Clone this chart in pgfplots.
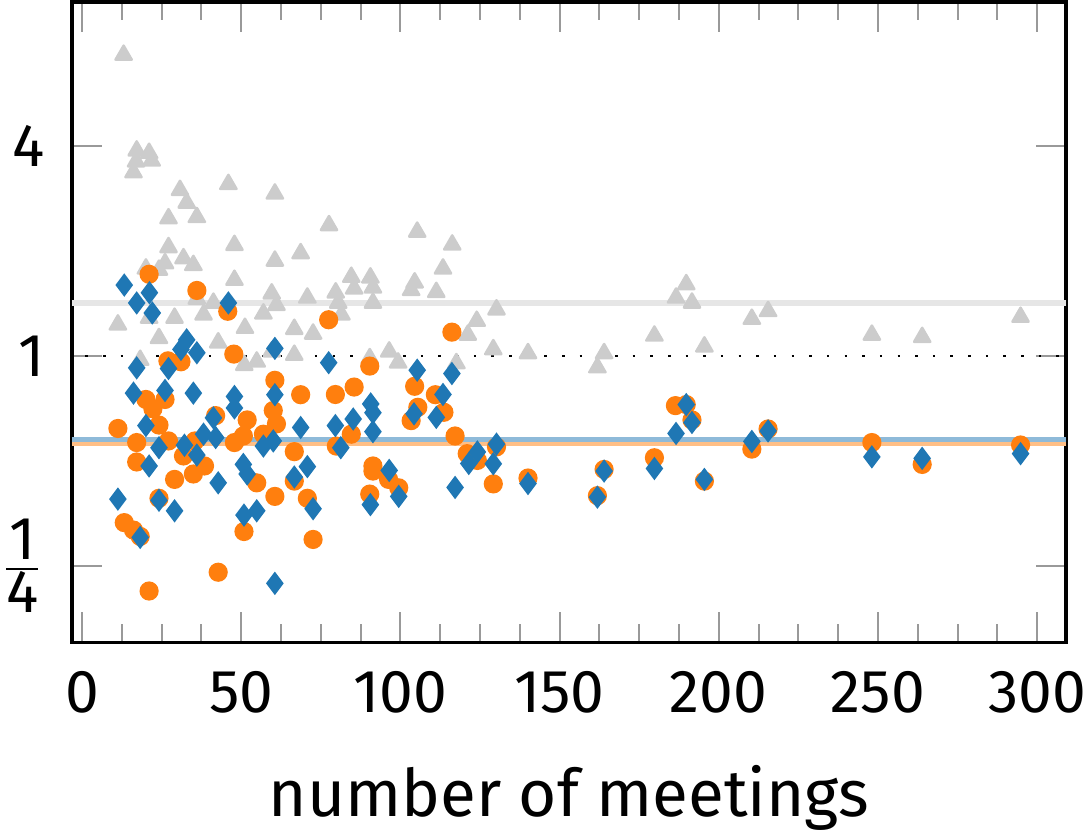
\documentclass[border=0pt]{standalone}
\usepackage{fontspec}
\setmainfont{Fira Sans}
\usepackage{pgfplots}
\pgfplotsset{compat=1.18}
\definecolor{tabblue}{HTML}{1F77B4}
\definecolor{taborange}{HTML}{FF7F0E}
\definecolor{trigray}{HTML}{CCCCCC}
\definecolor{meangray}{HTML}{E6E6E6}
\definecolor{meanblue}{HTML}{8EBAD9}
\definecolor{meanorange}{HTML}{FFBF86}

\begin{document}
\begin{tikzpicture}[font=\fontsize{12}{14}\selectfont]
\begin{axis}[
  scale only axis, width=197pt, height=127pt,
  xmin=-3.1, xmax=309,
  ymode=log, log basis y=2,
  ymin=0.151, ymax=10.37,
  xtick={0,50,...,300},
  minor x tick num=3,
  ytick={0.25,1,4},
  yticklabels={$\frac{\mbox{1}}{\mbox{4}}$,1,4},
  yminorticks=false,
  tick align=inside,
  major tick length=6pt, minor tick length=3.7pt,
  every tick/.style={color=black!40, line width=0.4pt},
  axis line style={line width=0.7pt},
  /pgf/number format/assume math mode=true,
  ticklabel style={inner sep=0pt},
  xticklabel shift=5.5pt, yticklabel shift=5.3pt,
  xlabel={number of meetings},
  xlabel style={at={(axis description cs:0.5,0)}, anchor=base, yshift=-34.5pt,
    inner sep=0pt, font=\fontsize{13}{15}\selectfont},
]
% mean lines
\addplot[line width=1.2pt, meangray] coordinates {(-10,1.417) (320,1.417)};

% gray triangles
\addplot[only marks, mark=triangle*, mark size=1.85pt, color=trigray,
  mark options={line join=round, line width=0.5pt}] coordinates {
(13.1,7.30) (17.2,3.88) (21.1,3.82) (17.0,3.61) (21.9,3.63) (16.2,3.36)
(30.8,2.99) (46.0,3.11) (32.9,2.75) (60.6,2.92) (27.2,2.48) (36.1,2.50)
(27.2,2.05) (47.9,2.08) (31.9,1.905) (26.1,1.843) (35.0,1.822) (20.1,1.78)
(24.2,1.766) (60.6,1.875) (47.9,1.652) (59.6,1.51) (36.1,1.459) (41.3,1.42)
(61.1,1.40) (77.6,2.37) (105.3,2.27) (116.3,2.085) (68.7,1.97) (113.4,1.78)
(84.6,1.685) (90.6,1.678) (104.5,1.624) (85.5,1.56) (91.4,1.57) (103.4,1.545)
(111.3,1.525) (70.8,1.469) (79.7,1.52) (80.5,1.42) (91.4,1.42) (11.3,1.23)
(21.1,1.286) (29.1,1.286) (38.2,1.314) (57.0,1.323) (24.2,1.125) (42.8,1.093)
(51.2,1.203) (18.3,0.974) (54.9,0.963) (51.0,0.942) (59.6,1.03) (81.5,1.314)
(66.7,1.195) (72.6,1.158) (124.0,1.26) (121.2,1.15) (66.7,1.007) (90.4,0.985)
(96.5,1.029) (99.3,0.957) (117.6,0.953) (130.2,1.359) (129.2,1.045) (140.1,1.018)
(161.9,0.927) (164.0,1.018) (179.8,1.143) (186.6,1.469) (189.8,1.605) (191.6,1.421)
(195.5,1.064) (210.4,1.277) (215.5,1.344) (248.1,1.15) (263.9,1.133) (294.8,1.294)
};

\addplot[line width=0.5pt, dash pattern=on 0.5pt off 3pt, black] coordinates {(-10,1) (320,1)};
\addplot[line width=1pt, meanorange] coordinates {(-10,0.563) (320,0.563)};
\addplot[line width=1pt, meanblue] coordinates {(-10,0.577) (320,0.577)};

% orange circles
\addplot[only marks, mark=*, mark size=1.7pt, color=taborange,
  mark options={draw=none}] coordinates {
(21.1,1.716) (36.1,1.542) (45.8,1.344) (47.7,1.013) (27.0,0.969) (31.1,0.963)
(20.1,0.751) (22.3,0.706) (26.1,0.751) (24.2,0.634) (11.3,0.62) (17.2,0.565)
(27.2,0.571) (17.2,0.497) (31.9,0.517) (35.5,0.571) (42.0,0.675) (38.5,0.484)
(35.0,0.459) (29.1,0.443) (51.9,0.656) (50.7,0.59) (47.9,0.565) (57.0,0.597)
(54.9,0.433) (60.6,0.852) (60.1,0.698) (60.6,0.396) (24.2,0.391) (13.3,0.333)
(16.2,0.317) (18.3,0.304) (50.9,0.314) (42.8,0.240) (21.1,0.212) (77.5,1.271)
(116.2,1.171) (90.4,0.936) (68.7,0.775) (79.6,0.776) (85.5,0.815) (104.5,0.819)
(111.0,0.775) (105.5,0.713) (113.7,0.69) (103.4,0.653) (61.1,0.639) (84.6,0.597)
(79.9,0.552) (66.7,0.532) (117.2,0.59) (121.0,0.525) (91.4,0.484) (91.4,0.468)
(96.3,0.443) (99.5,0.419) (66.7,0.438) (70.8,0.391) (90.4,0.402) (72.6,0.298)
(124.2,0.502) (130.2,0.549) (129.2,0.430) (140.1,0.447) (161.9,0.398) (164.0,0.473)
(179.8,0.511) (186.4,0.721) (189.8,0.726) (191.6,0.656) (195.5,0.438) (210.4,0.541)
(215.5,0.618) (248.1,0.565) (263.9,0.489) (294.8,0.556)
};

% blue diamonds
\addplot[only marks, mark=diamond*, mark size=2pt, color=tabblue,
  mark options={draw=none}] coordinates {
(13.3,1.598) (21.2,1.519) (17.2,1.42) (46.0,1.42) (22.1,1.329) (32.9,1.113)
(31.1,1.045) (36.1,1.022) (17.2,0.925) (27.2,0.921) (60.6,1.052) (16.2,0.783)
(26.1,0.797) (35.0,0.783) (47.9,0.766) (47.9,0.71) (60.6,0.775) (20.1,0.632)
(41.3,0.665) (38.2,0.597) (42.0,0.584) (24.2,0.546) (32.2,0.555) (36.1,0.520)
(21.1,0.484) (57.0,0.552) (60.1,0.571) (50.7,0.489) (51.9,0.459) (42.8,0.433)
(11.3,0.389) (24.2,0.386) (29.1,0.36) (18.3,0.302) (50.9,0.35) (54.9,0.36)
(60.6,0.223) (77.5,0.957) (105.3,0.911) (116.2,0.891) (68.7,0.624) (79.6,0.632)
(85.2,0.66) (90.7,0.729) (91.4,0.688) (91.4,0.607) (113.4,0.776) (104.3,0.683)
(111.3,0.667) (81.3,0.546) (70.8,0.482) (66.7,0.45) (96.5,0.47) (72.6,0.365)
(90.6,0.375) (99.5,0.396) (117.2,0.42) (121.5,0.492) (124.2,0.531) (129.2,0.491)
(130.2,0.559) (140.1,0.431) (161.9,0.394) (164.0,0.468) (179.8,0.476) (186.6,0.600)
(189.8,0.726) (191.6,0.645) (195.5,0.443) (210.4,0.569) (215.5,0.61) (248.1,0.514)
(263.9,0.509) (294.8,0.525)
};
\end{axis}
\end{tikzpicture}
\end{document}
